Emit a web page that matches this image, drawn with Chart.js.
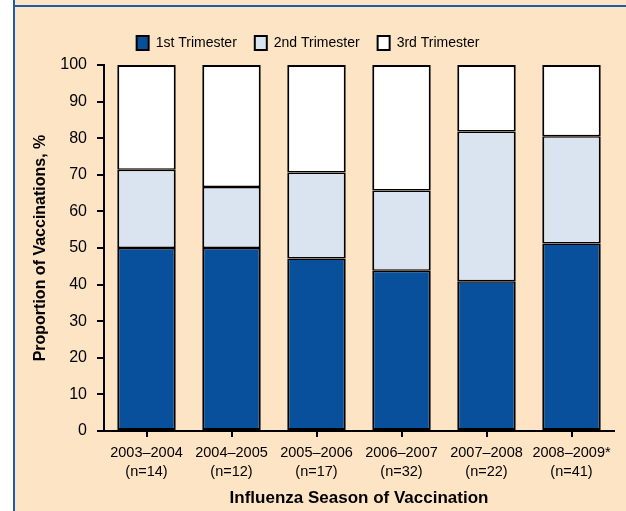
<!DOCTYPE html>
<html>
<head>
<meta charset="utf-8">
<script src="https://cdn.jsdelivr.net/npm/chart.js@4/dist/chart.umd.min.js"></script>
<style>
    html, body {
        margin: 0;
        padding: 0;
        background: #ffffff;
    }
    .frame {
        position: absolute;
        left: 13px;
        top: 0;
        width: 611px;
        height: 511px;
        background: #fce4c5;
        border-left: 2px solid #1d5ca8;
    }
    .frame-top {
        position: absolute;
        left: 0;
        top: 5px;
        width: 100%;
        height: 2px;
        background: #1d5ca8;
    }
    .chart-box {
        position: absolute;
        left: 0;
        top: 7px;
        width: 611px;
        height: 504px;
    }
</style>
</head>
<body>
<div class="frame">
    <div class="frame-top"></div>
    <div class="chart-box">
        <canvas id="trimesterChart"></canvas>
    </div>
</div>
<script>
    const seasons = ['2003–2004', '2004–2005', '2005–2006', '2006–2007', '2007–2008', '2008–2009*'];
    const sampleSizes = ['(n=14)', '(n=12)', '(n=17)', '(n=32)', '(n=22)', '(n=41)'];

    const firstTrimester = [50.0, 50.0, 47.1, 43.8, 40.9, 51.2];
    const secondTrimester = [21.4, 16.7, 23.5, 21.9, 40.9, 29.3];
    const thirdTrimester = [28.6, 33.3, 29.4, 34.3, 18.2, 19.5];

    const yTicks = [0, 10, 20, 30, 40, 50, 60, 70, 80, 90, 100];

    const fontName = '"Liberation Sans", Arial, Helvetica, sans-serif';

    // legend sits a little left of centre and needs more room under it
    const legendTweak = {
        id: 'legendTweak',
        beforeUpdate(chart) {
            let legend = chart.legend;
            if (legend && !legend.patched) {
                let fit = legend.fit;
                legend.fit = function () {
                    fit.call(this);
                    this.height += 5;
                };
                legend.patched = true;
            }
        },
        afterLayout(chart) {
            chart.legend.left = 0;
            chart.legend.right = 586;
        }
    };

    let labels = seasons.map((season, i) => [season, sampleSizes[i]]);

    // segments touch each other, so the shared edges are drawn thinner
    function barStyle(top, bottom) {
        return {
            borderColor: '#000000',
            borderWidth: {top: top, bottom: bottom, left: 2, right: 2},
            borderSkipped: false,
            categoryPercentage: 0.8,
            barPercentage: 0.86
        };
    }

    new Chart(document.getElementById('trimesterChart').getContext('2d'), {
        type: 'bar',
        data: {
            labels: labels,
            datasets: [
                Object.assign({label: '1st Trimester', data: firstTrimester, backgroundColor: '#08509c'}, barStyle(1.5, 2)),
                Object.assign({label: '2nd Trimester', data: secondTrimester, backgroundColor: '#dae4f0'}, barStyle(1.5, 1.5)),
                Object.assign({label: '3rd Trimester', data: thirdTrimester, backgroundColor: '#ffffff'}, barStyle(2, 1.5))
            ]
        },
        options: {
            responsive: true,
            maintainAspectRatio: false,
            animation: false,
            layout: {
                padding: {top: 11, right: 12, bottom: 0, left: 0}
            },
            plugins: {
                tooltip: {enabled: false},
                legend: {
                    position: 'top',
                    labels: {
                        boxWidth: 12,
                        boxHeight: 14,
                        padding: 18,
                        color: '#000000',
                        font: {family: fontName, size: 14},
                        generateLabels: (chart) => {
                            let items = Chart.defaults.plugins.legend.labels.generateLabels(chart);
                            items.forEach(item => {
                                item.lineWidth = 2;
                            });
                            return items;
                        }
                    }
                }
            },
            scales: {
                x: {
                    stacked: true,
                    afterFit: (scale) => {
                        scale.height = 80;
                    },
                    border: {color: '#000000', width: 2},
                    grid: {
                        offset: false,
                        drawOnChartArea: false,
                        color: '#000000',
                        lineWidth: 2,
                        tickLength: 6
                    },
                    ticks: {
                        padding: 7,
                        maxRotation: 0,
                        color: '#000000',
                        font: {family: fontName, size: 14.5, lineHeight: 1.3}
                    },
                    title: {
                        display: true,
                        text: 'Influenza Season of Vaccination',
                        color: '#000000',
                        padding: {top: 0, bottom: 2},
                        font: {family: fontName, size: 17, weight: 'bold'}
                    }
                },
                y: {
                    stacked: true,
                    min: 0,
                    max: 100,
                    afterFit: (scale) => {
                        scale.width = 89;
                    },
                    afterBuildTicks: (scale) => {
                        scale.ticks = yTicks.map(v => ({value: v}));
                    },
                    border: {color: '#000000', width: 2},
                    grid: {
                        drawOnChartArea: false,
                        color: '#000000',
                        lineWidth: 2,
                        tickLength: 7
                    },
                    ticks: {
                        padding: 10,
                        color: '#000000',
                        font: {family: fontName, size: 16}
                    },
                    title: {
                        display: true,
                        text: 'Proportion of Vaccinations, %',
                        color: '#000000',
                        padding: {top: 16, bottom: 0},
                        font: {family: fontName, size: 16, weight: 'bold'}
                    }
                }
            }
        },
        plugins: [legendTweak]
    });
</script>
</body>
</html>
